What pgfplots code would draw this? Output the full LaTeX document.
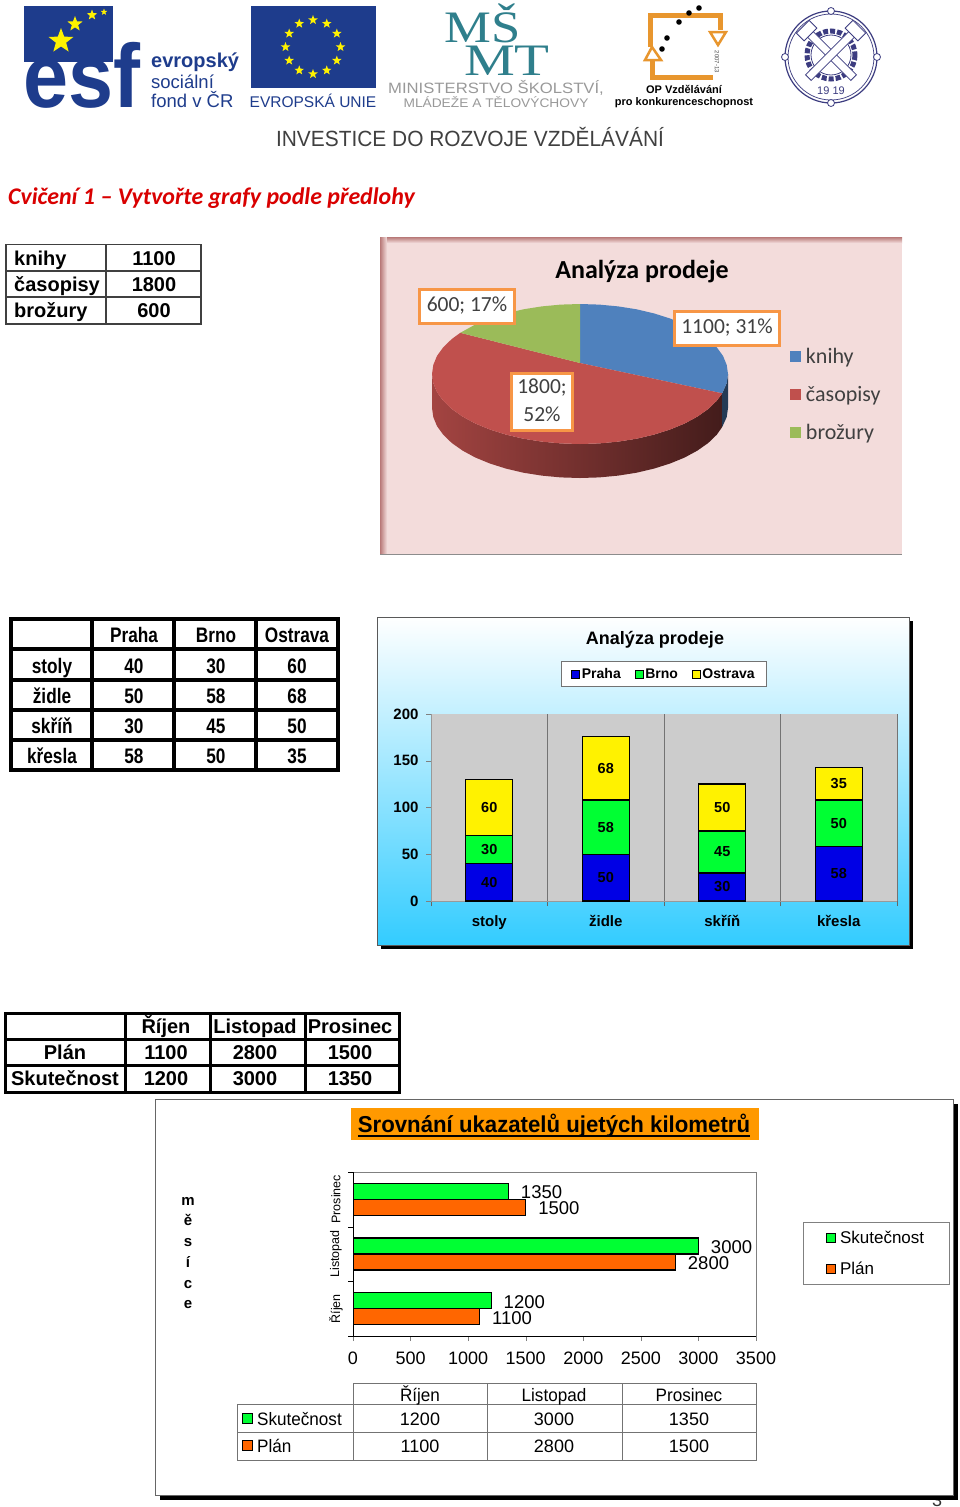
\documentclass[border=0pt]{standalone}
\usepackage{fontspec}
\usepackage{pgfplots}
\usepackage{pgfplotstable}
\pgfplotsset{compat=1.18}
\usetikzlibrary{shapes.geometric}
\setmainfont{Liberation Sans}
\newfontfamily\calfont{Carlito}
\newfontfamily\serfont{Liberation Serif}
\newcommand\fs[1]{\fontsize{#1}{#1}\selectfont}

\definecolor{navy}{HTML}{1E3C8C}
\definecolor{teal2}{HTML}{2F7F8C}
\definecolor{opor}{HTML}{E8962E}
\definecolor{seal}{HTML}{3C3C80}
\definecolor{pblue}{HTML}{4F81BD}
\definecolor{pred}{HTML}{C0504D}
\definecolor{pgreen}{HTML}{9BBB59}
\definecolor{porange}{HTML}{F79646}
\definecolor{sky}{HTML}{33CCFF}
\definecolor{lime}{HTML}{00FF33}
\definecolor{orng}{HTML}{FF6600}
\definecolor{banner}{HTML}{FF9900}

\pgfplotstableread{
x praha brno ostrava
0 40 30 60
1 50 58 68
2 30 45 50
3 58 50 35
}\stackdata

\begin{document}
\begin{tikzpicture}
\clip (0,0) rectangle (960pt,-1507pt);
\fill[white] (0,0) rectangle (960pt,-1507pt);

\begin{scope}[x=1pt,y=-1pt,txt/.style={inner sep=0pt,text=black},bl/.style={inner sep=0pt,text=black,anchor=base}]
% logos
\fill[navy] (24,6) rectangle (113,62);
\foreach \p/\r in {{61,41}/13,{75,24}/8,{92,15}/5.5,{104,12}/3.5}
  \node[star,star points=5,star point ratio=2.4,fill=yellow,inner sep=0pt,minimum size=2*\r pt] at (\p) {};
\node[txt,anchor=base west,text=navy,xscale=.9] at (23,107) {\fs{90}\bfseries esf};
\node[txt,anchor=west,text=navy] at (151,62) {\fs{20}\bfseries evropský};
\node[txt,anchor=west,text=navy] at (151,82) {\fs{18.5}sociální};
\node[txt,anchor=west,text=navy] at (151,100) {\fs{18.5}fond v ČR};
\fill[navy] (251,6) rectangle (376,88);
\foreach \a in {0,30,...,330}
  \node[star,star points=5,star point ratio=2.4,fill=yellow,inner sep=0pt,minimum size=10pt] at ({313+27.5*sin(\a)},{47-27*cos(\a)}) {};
\node[txt,text=navy] at (313,101) {\fs{15.5}EVROPSKÁ UNIE};
\node[txt,anchor=base,text=teal2,xscale=1.17] at (483,42) {\fs{45}\serfont MŠ};
\node[txt,anchor=base,text=teal2,xscale=1.27] at (507,75) {\fs{45}\serfont MT};
\node[txt,text=black!40,xscale=1.11] at (496,88) {\fs{15}MINISTERSTVO ŠKOLSTVÍ,};
\node[txt,text=black!40,xscale=1.1] at (496,102) {\fs{12.5}MLÁDEŽE A TĚLOVÝCHOVY};
% OP logo
\draw[opor,line width=5pt] (650,47) -- (650,15) -- (720,15) -- (720,30);
\draw[opor,line width=5pt] (713,77) -- (652,77) -- (652,60);
\draw[opor,line width=2.5pt,fill=white] (710,32) -- (726,32) -- (718,45) -- cycle;
\draw[opor,line width=2.5pt,fill=white] (645,60) -- (661,60) -- (652,47) -- cycle;
\foreach \p in {{699,8},{689,13},{679,22},{667,38},{662,49}} \fill (\p) circle (2.8);
\node[txt,rotate=-90,text=black!70] at (717,62) {\fs{6}2007-13};
\node[txt] at (684,89) {\fs{11}\bfseries OP Vzdělávání};
\node[txt] at (684,103) {\fs{11}\bfseries pro konkurenceschopnost};
% seal
\draw[seal,line width=1.2pt] (831,57) circle (46);
\draw[seal,line width=.7pt] (831,57) circle (43);
\foreach \p in {{831,11},{831,103},{785,57},{877,57}} \draw[seal,fill=white,line width=.8pt] (\p) circle (3.5);
\draw[seal,line width=5pt,dotted] (831,55) circle (24);
\draw[seal,line width=.8pt] (831,55) circle (20);
\foreach \r in {45,-45} {
  \begin{scope}[shift={(831,55)},rotate=\r]
  \draw[seal,fill=white,line width=.8pt] (-4,-32) rectangle (4,32);
  \draw[seal,fill=white,line width=.8pt] (-9,-40) rectangle (9,-29);
  \end{scope}
}
\node[txt,text=seal] at (831,91) {\fs{11}19 19};
\node[txt,text=black!75,xscale=.95] at (470,137) {\fs{22}INVESTICE DO ROZVOJE VZDĚLÁVÁNÍ};

\node[txt,anchor=west,text=red!85!black] at (8,198) {\fs{23.9}\calfont\bfseries\itshape Cvičení 1 – Vytvořte grafy podle předlohy};

% table 1
\draw[black!75,line width=1.4pt] (6,244.5) rectangle (201,324);
\foreach \y in {271,297} \draw[black!75,line width=1.4pt] (6,\y) -- (201,\y);
\draw[black!75,line width=1.4pt] (106,244.5) -- (106,324);
\foreach \y/\a/\b in {265/knihy/1100,291/časopisy/1800,317/brožury/600} {
  \node[bl,anchor=base west] at (14,\y) {\fs{20}\bfseries \a};
  \node[bl] at (154,\y) {\fs{20}\bfseries \b};
}

% pie panel
\fill[pred!20!white] (380,237) rectangle (902,554);
\fill[left color=pred!80!black!70,right color=pred!20!white] (380,237) rectangle (387,554);
\fill[top color=pred!80!black!70,bottom color=pred!20!white] (387,237) rectangle (902,243);
\draw[black!45,line width=.6pt] (380,554) -- (902,554);

% table 2
\draw[black,line width=4pt] (11,619) rectangle (338,770);
\foreach \y in {649,680,710,740} \draw[black,line width=4pt] (11,\y) -- (338,\y);
\foreach \x in {92,174,256} \draw[black,line width=4pt] (\x,619) -- (\x,770);
\foreach \x/\s in {134/Praha,216/Brno,297/Ostrava} \node[bl,xscale=.82] at (\x,642) {\fs{21}\bfseries \s};
\foreach \y/\n/\a/\b/\c in {673/stoly/40/30/60,703/židle/50/58/68,733/skříň/30/45/50,763/křesla/58/50/35} {
  \node[bl,xscale=.82] at (52,\y) {\fs{21}\bfseries \n};
  \node[bl,xscale=.82] at (134,\y) {\fs{21}\bfseries \a};
  \node[bl,xscale=.82] at (216,\y) {\fs{21}\bfseries \b};
  \node[bl,xscale=.82] at (297,\y) {\fs{21}\bfseries \c};
}

% stacked panel
\fill[black] (381,621) rectangle (913,949);
\draw[black!65,line width=.8pt,top color=white,bottom color=sky] (377,617) rectangle (909,945);
\node[bl] at (655,644) {\fs{18}\bfseries Analýza prodeje};

% table 3
\draw[black,line width=3pt] (5,1013) rectangle (399,1092);
\foreach \y in {1039,1065} \draw[black,line width=3pt] (5,\y) -- (399,\y);
\foreach \x in {125,210,305} \draw[black,line width=3pt] (\x,1013) -- (\x,1092);
\foreach \x/\s in {166/Říjen,255/Listopad,350/Prosinec} \node[bl] at (\x,1033) {\fs{20}\bfseries \s};
\foreach \y/\n/\a/\b/\c in {1059/Plán/1100/2800/1500,1085/Skutečnost/1200/3000/1350} {
  \node[bl] at (65,\y) {\fs{20}\bfseries \n};
  \node[bl] at (166,\y) {\fs{20}\bfseries \a};
  \node[bl] at (255,\y) {\fs{20}\bfseries \b};
  \node[bl] at (350,\y) {\fs{20}\bfseries \c};
}

% page number and lower panel
\node[txt,text=black!80] at (937,1500) {\fs{18}3};
\fill[black] (160,1104) rectangle (958,1500);
\draw[black!60,line width=.8pt,fill=white] (155,1099) rectangle (953,1495);
\fill[banner] (351,1108) rectangle (759,1140);
\node[bl,xscale=.965] at (554,1132) {\fs{23}\bfseries Srovnání ukazatelů ujetých kilometrů};
\draw[black,line width=1.8pt] (358,1136) -- (750,1136);
\foreach \y/\s in {1205/m,1225/ě,1246/s,1267/í,1288/c,1308/e} \node[bl] at (188,\y) {\fs{15}\bfseries \s};

% data table under the bars
\draw[black!55,line width=.8pt] (353,1383) rectangle (756,1460);
\draw[black!55,line width=.8pt] (237,1404) rectangle (756,1460);
\draw[black!55,line width=.8pt] (237,1432) -- (756,1432);
\foreach \x in {487,622.5} \draw[black!55,line width=.8pt] (\x,1383) -- (\x,1460);
\foreach \x/\s in {420/Říjen,554/Listopad,689/Prosinec} \node[bl,xscale=.95] at (\x,1401) {\fs{18}\s};
\foreach \y/\n/\a/\b/\c/\k in {1425/Skutečnost/1200/3000/1350/lime,1452/Plán/1100/2800/1500/orng} {
  \draw[black,line width=.6pt,fill=\k] (242,\y-12) rectangle (252,\y-2);
  \node[bl,anchor=base west,xscale=.95] at (257,\y) {\fs{18}\n};
  \node[bl] at (420,\y) {\fs{18}\a};
  \node[bl] at (554,\y) {\fs{18}\b};
  \node[bl] at (689,\y) {\fs{18}\c};
}
\end{scope}

% 3D pie, in picture coordinates of its panel
\begin{axis}[
  at={(380pt,-554pt)},anchor=south west,scale only axis,width=522pt,height=317pt,
  xmin=380,xmax=902,ymin=237,ymax=554,y dir=reverse,axis lines=none,
  legend style={at={(.785,.655)},anchor=north west,draw=none,fill=none,
    font=\fs{22}\calfont,text=black!75,row sep=17pt,inner sep=0pt,/tikz/column sep=3pt},
  legend cell align=left,
  legend image code/.code={\fill[#1] (0pt,-5.5pt) rectangle (11pt,5.5pt);},
]
\addplot[forget plot,draw=none,fill=pblue!45!black] coordinates {(728,374) (726.7,383.1) (722.2,393.3) (722.2,427) (726.7,417.1) (728,408)} --cycle;
\addplot[forget plot,draw=none,left color=pred!85!black,middle color=pred!60!black,right color=pred!35!black] coordinates {
 (722.2,393.3) (716.7,400.8) (708.2,409) (697.4,416.6) (684.7,423.5) (670.1,429.5) (654,434.6) (636.6,438.7) (618.3,441.6) (599.3,443.4) (580,444) (560.7,443.4) (541.7,441.6) (523.4,438.7) (506,434.6) (489.9,429.5) (475.3,423.5) (462.6,416.6) (451.8,409) (443.3,400.8) (437,392.1) (433.3,383.1) (432,374)
 (432,408) (433.3,417.1) (437,426.1) (443.3,434.8) (451.8,443) (462.6,450.6) (475.3,457.5) (489.9,463.5) (506,468.6) (523.4,472.7) (541.7,475.6) (560.7,477.4) (580,478) (599.3,477.4) (618.3,475.6) (636.6,472.7) (654,468.6) (670.1,463.5) (684.7,457.5) (697.4,450.6) (708.2,443) (716.7,434.8) (722.2,427)} --cycle;
\addplot[draw=none,fill=pblue] coordinates {(580,363) (580,304) (599.3,304.6) (618.3,306.4) (636.6,309.3) (654,313.4) (670.1,318.5) (684.7,324.5) (697.4,331.4) (708.2,339) (716.7,347.2) (723,355.9) (726.7,364.9) (728,374) (726.7,383.1) (722.2,393.3)} --cycle;
\addlegendentry{knihy}
\addplot[draw=none,fill=pred] coordinates {(580,363) (722.2,393.3) (716.7,400.8) (708.2,409) (697.4,416.6) (684.7,423.5) (670.1,429.5) (654,434.6) (636.6,438.7) (618.3,441.6) (599.3,443.4) (580,444) (560.7,443.4) (541.7,441.6) (523.4,438.7) (506,434.6) (489.9,429.5) (475.3,423.5) (462.6,416.6) (451.8,409) (443.3,400.8) (437,392.1) (433.3,383.1) (432,374) (433.3,364.9) (437,355.9) (443.3,347.2) (451.8,339) (460.3,332.8)} --cycle;
\addlegendentry{časopisy}
\addplot[draw=none,fill=pgreen] coordinates {(580,363) (460.3,332.8) (475.3,324.5) (489.9,318.5) (506,313.4) (523.4,309.3) (541.7,306.4) (560.7,304.6) (580,304)} --cycle;
\addlegendentry{brožury}
\end{axis}

\begin{scope}[x=1pt,y=-1pt,lab/.style={draw=porange,line width=3pt,fill=white}]
\node[inner sep=0pt,text=black] at (642,272) {\fs{26}\calfont\bfseries Analýza prodeje};
\draw[lab] (419.5,289.5) rectangle (514.5,323);
\node[inner sep=0pt,text=black!75] at (467,306) {\fs{21.5}\calfont 600; 17\%};
\draw[lab] (674.5,311.5) rectangle (779,345);
\node[inner sep=0pt,text=black!75] at (727,328) {\fs{21.5}\calfont 1100; 31\%};
\draw[lab] (511.5,373.5) rectangle (572,430);
\node[inner sep=0pt,text=black!75] at (542,388) {\fs{21.5}\calfont 1800;};
\node[inner sep=0pt,text=black!75] at (542,414) {\fs{21.5}\calfont 52\%};
\end{scope}

% stacked bars
\begin{axis}[
  at={(431pt,-901pt)},anchor=south west,scale only axis,width=466pt,height=187pt,
  ybar stacked,bar width=47pt,
  xmin=-0.5,xmax=3.5,ymin=0,ymax=200,
  axis background/.style={fill=black!20},
  xtick={0,1,2,3},xticklabels={stoly,židle,skříň,křesla},
  minor xtick={-0.5,0.5,1.5,2.5,3.5},xminorgrids,
  minor grid style={black!55,line width=.7pt},
  every major x tick/.style={draw=none},
  every minor x tick/.style={black!60},
  ytick={0,50,100,150,200},
  tick align=outside,major tick length=5pt,minor tick length=5pt,
  axis line style={draw=black!40,line width=.6pt},
  axis x line*=bottom,axis y line*=left,
  /pgf/number format/assume math mode=true,
  tick label style={font=\fs{15}\bfseries,text=black},
  yticklabel style={xshift=-4pt},
  xticklabel style={yshift=-6pt},
  nodes near coords={\pgfmathprintnumber{\rawy}},
  every node near coord/.append style={font=\fs{14.5}\bfseries,text=black,anchor=center,inner sep=0pt},
  legend style={at={(.5,1.214)},anchor=center,draw=black!55,fill=white,font=\fs{14}\bfseries,
    legend columns=3,inner xsep=10pt,inner ysep=4.5pt,/tikz/every even column/.append style={column sep=12pt}},
  legend image code/.code={\draw[#1,line width=.5pt] (0pt,-4pt) rectangle (8pt,4pt);},
]
\addplot[draw=black,line width=1.4pt,fill=blue!90!black,visualization depends on=\thisrow{praha} \as \rawy] table[x=x,y=praha] {\stackdata};
\addlegendentry{Praha}
\addplot[draw=black,line width=1.4pt,fill=lime,visualization depends on=\thisrow{brno} \as \rawy] table[x=x,y=brno] {\stackdata};
\addlegendentry{Brno}
\addplot[draw=black,line width=1.4pt,fill=yellow,visualization depends on=\thisrow{ostrava} \as \rawy] table[x=x,y=ostrava] {\stackdata};
\addlegendentry{Ostrava}
\end{axis}

% horizontal bars
\begin{axis}[
  at={(353pt,-1336pt)},anchor=south west,scale only axis,width=403pt,height=164pt,
  xbar,
  xmin=0,xmax=3500,ymin=0.5,ymax=3.5,
  xtick={0,500,...,3500},
  ytick={1,2,3},yticklabels={Říjen,Listopad,Prosinec},
  minor ytick={0.5,1.5,2.5,3.5},
  every major y tick/.style={draw=none},
  every minor y tick/.style={black},
  tick pos=left,
  tick align=outside,major tick length=5pt,minor tick length=5pt,
  axis line style={draw=black!50,line width=.7pt},
  /pgf/number format/assume math mode=true,
  /pgf/number format/1000 sep={},
  xticklabel style={font=\fs{18},yshift=-7pt},
  yticklabel style={font=\fs{12.5},xshift=-12pt,rotate=90,anchor=center},
  nodes near coords,
  every node near coord/.append style={font=\fs{18.5},text=black,inner sep=0pt,xshift=12pt,yshift=-1pt},
  legend style={at={(1.116,.695)},anchor=north west,draw=black!50,fill=white,font=\fs{17},
    row sep=13pt,inner xsep=23.5pt,inner ysep=6.5pt,/tikz/column sep=2pt},
  legend cell align=left,
  legend image code/.code={\draw[#1,line width=.6pt] (0pt,-4.5pt) rectangle (9pt,4.5pt);},
]
\addplot[draw=black,line width=1.1pt,fill=lime,bar width=16pt,bar shift=8pt] coordinates {(1200,1) (3000,2) (1350,3)};
\addlegendentry{Skutečnost}
\addplot[draw=black,line width=1.1pt,fill=orng,bar width=16pt,bar shift=-8pt] coordinates {(1100,1) (2800,2) (1500,3)};
\addlegendentry{Plán}
\draw[black,line width=.8pt] (axis cs:0,0.5) -- (axis cs:0,3.5);
\draw[black,line width=.8pt] (axis cs:0,0.5) -- (axis cs:3500,0.5);
\end{axis}
\end{tikzpicture}
\end{document}
